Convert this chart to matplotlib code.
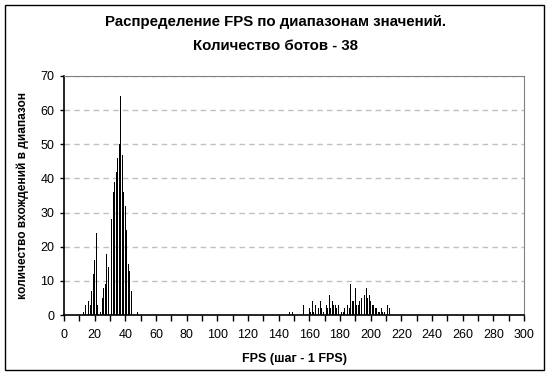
"""FPS distribution histogram (bots count 38), Excel-style bar chart."""

import matplotlib

matplotlib.use("Agg")
import matplotlib.pyplot as plt
from matplotlib.patches import Rectangle

plt.rcParams["font.family"] = ["Liberation Sans", "DejaVu Sans"]

# FPS bins (1 FPS step) and number of hits in each bin
fps_low = [13, 14, 15, 16, 17, 18, 19, 20, 21, 22, 24, 25, 26, 27, 28, 29,
           30, 31, 32, 33, 34, 35, 36, 37, 38, 39, 40, 41, 42, 43, 44, 45, 48]
cnt_low = [1, 3, 3, 4, 3, 7, 12, 16, 24, 3, 1, 5, 8, 9, 18, 14,
           26, 28, 36, 39, 42, 46, 50, 64, 47, 36, 32, 25, 15, 13, 7, 2, 1]

fps_high = [147, 149, 156, 160, 161, 162, 163, 164, 165, 166, 167, 168, 169,
            171, 172, 173, 174, 175, 176, 177, 178, 179, 180, 181, 182, 183,
            185, 186, 187, 188, 189, 190, 191, 192, 193, 194, 195, 196, 197,
            198, 199, 200, 201, 202, 203, 204, 205, 206, 207, 208, 209, 210,
            211, 212]
cnt_high = [1, 1, 3, 2, 1, 4, 1, 3, 2, 2, 4, 2, 1,
            3, 2, 6, 2, 4, 3, 3, 2, 3, 3, 1, 1, 2,
            3, 2, 9, 4, 4, 8, 3, 3, 4, 5, 7, 6, 8,
            5, 6, 4, 3, 3, 2, 2, 1, 1, 2, 1, 1, 1,
            3, 2]

x_ticks = list(range(0, 301, 20))
y_ticks = list(range(0, 71, 10))

fig = plt.figure(figsize=(5.51, 3.75), dpi=100)
ax = fig.add_axes([64 / 551, 60 / 375, 460 / 551, 239 / 375])

ax.bar(fps_low + fps_high, cnt_low + cnt_high, width=0.6,
       color="black", linewidth=0, zorder=3)

ax.set_xlim(0, 300)
ax.set_ylim(0, 70)
ax.set_xticks(x_ticks)
ax.set_xticks(range(0, 301, 10), minor=True)
ax.set_yticks(y_ticks)
ax.tick_params(axis="x", which="both", direction="out", length=4,
               width=1, labelsize=9, pad=6)
ax.tick_params(axis="x", which="minor", length=4)
ax.tick_params(axis="y", direction="out", length=3, width=1,
               labelsize=9, pad=4)
ax.yaxis.grid(True, color="#c0c0c0", linestyle=(0, (4, 3)), linewidth=1)
ax.set_axisbelow(True)
for side in ("top", "right"):
    ax.spines[side].set_color("#808080")
for side in ("left", "bottom"):
    ax.spines[side].set_color("black")
    ax.spines[side].set_linewidth(1.2)

ax.set_xlabel("FPS (шаг - 1 FPS)", fontsize=9, fontweight="bold", labelpad=9)
ax.set_ylabel("количество вхождений в диапазон", fontsize=8.6,
              fontweight="bold", labelpad=8)

fig.text(0.5, 1 - 22 / 375, "Распределение FPS по диапазонам значений.",
         ha="center", va="center", fontsize=10.8, fontweight="bold")
fig.text(0.5, 1 - 46 / 375, "Количество ботов - 38",
         ha="center", va="center", fontsize=10.8, fontweight="bold")

fig.patches.append(Rectangle((5 / 551, 5 / 375), 539 / 551, 365 / 375,
                             transform=fig.transFigure, fill=False,
                             edgecolor="black", linewidth=1))

fig.savefig("out.png", dpi=100)
